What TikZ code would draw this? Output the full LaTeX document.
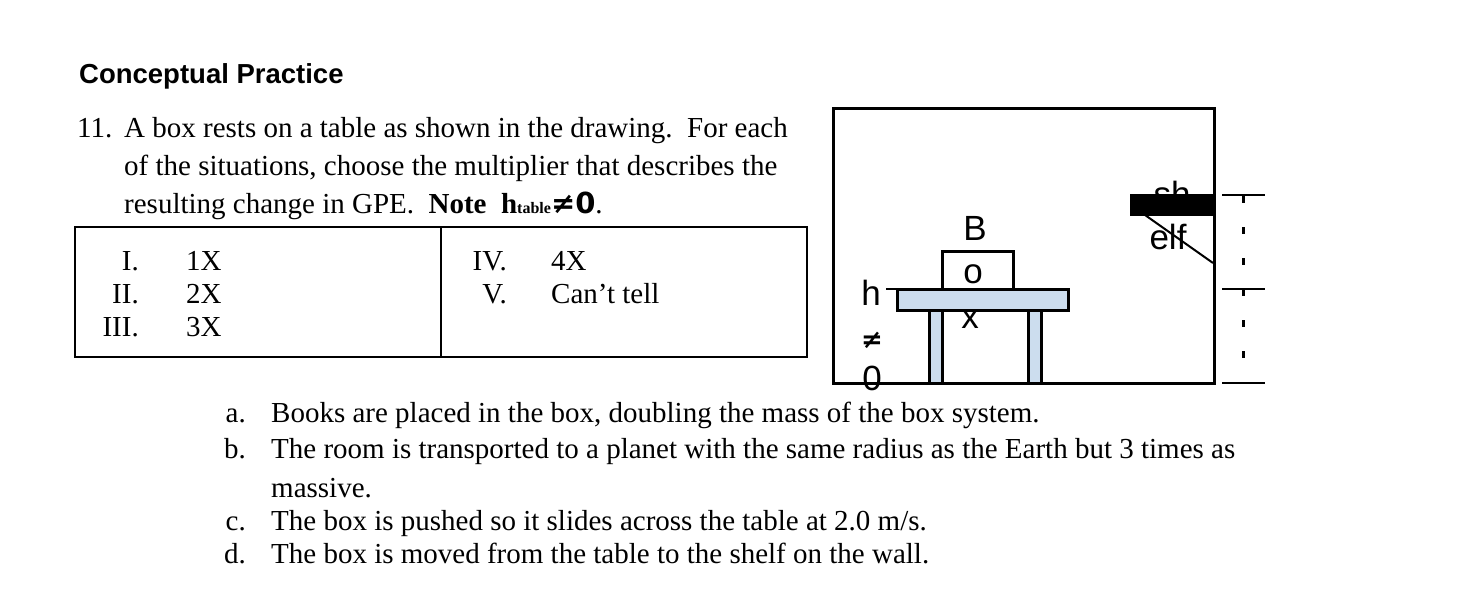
\documentclass[tikz,border=0pt]{standalone}
\usepackage{fontspec}
\setmainfont{Liberation Serif}
\newfontfamily\lsans{Liberation Sans}
\newfontfamily\dsans{DejaVu Sans}
\begin{document}
\begin{tikzpicture}[x=1pt,y=-1pt,
  txt/.style={anchor=base west,inner sep=0pt,font=\fontsize{29}{34}\selectfont},
  rtxt/.style={anchor=base east,inner sep=0pt,font=\fontsize{29}{34}\selectfont},
  lbl/.style={anchor=base,inner sep=0pt,font=\lsans\fontsize{35}{38}\selectfont},
  lblue/.style={fill={rgb,255:red,204;green,221;blue,238},draw=black,line width=3pt}]
\useasboundingbox (0,0) rectangle (1470,602);
\fill[white] (0,0) rectangle (1470,602);
\node[anchor=base west,inner sep=0pt,font=\lsans\bfseries\fontsize{27.5}{32}\selectfont] (head) at (79,84) {Conceptual Practice};
\node[txt] (n11) at (77,137) {11.};
\node[txt] (l1) at (124,137) {A box rests on a table as shown in the drawing.\ \ For each};
\node[txt] (l2) at (124,175) {of the situations, choose the multiplier that describes the};
\node[txt] (l3) at (124,213) {resulting change in GPE.\ \ \textbf{Note\ \ h}{\fontsize{16}{18}\selectfont\textbf{table}}{\dsans\bfseries ≠0}.};
% choice table
\draw[line width=2.5pt] (75,227) rectangle (807,357);
\draw[line width=2.5pt] (441,227) -- (441,357);
\node[rtxt] (r1) at (139,270) {I.};
\node[rtxt] (r2) at (139,303) {II.};
\node[rtxt] (r3) at (139,336) {III.};
\node[txt] (c1) at (186,270) {1X};
\node[txt] (c2) at (186,303) {2X};
\node[txt] (c3) at (186,336) {3X};
\node[rtxt] (r4) at (507,270) {IV.};
\node[rtxt] (r5) at (507,303) {V.};
\node[txt] (c4) at (551,270) {4X};
\node[txt] (c5) at (551,303) {Can’t tell};
% drawing
\draw[line width=3pt] (833,108) rectangle (1214,383);
\node[lbl] (sh) at (1172,206) {sh};
\fill (1130,194) rectangle (1214,216);
\node[lbl] (elf) at (1168,249) {elf};
\draw[line width=2pt] (1145,215) -- (1213,263);
\draw[line width=2.5pt] (1222,195) -- (1265,195) (1222,289) -- (1265,289) (1222,383) -- (1265,383);
\draw[line width=3pt,dash pattern=on 7pt off 24pt] (1243,196) -- (1243,383);
\node[lbl] (B) at (975,240) {B};
\draw[line width=3pt,fill=white] (942,251) rectangle (1013,289);
\node[lbl] (o) at (973,283) {o};
\draw[lblue] (929,310) rectangle (942,383);
\draw[lblue] (1028,310) rectangle (1041,383);
\draw[lblue] (897,289) rectangle (1068,310);
\node[lbl] (x) at (970,328) {x};
\node[lbl] (h) at (871,305) {h};
\draw[line width=1.5pt] (886,289) -- (897,289);
\node[anchor=base,inner sep=0pt,font=\dsans\bfseries\fontsize{26}{30}\selectfont] (ne) at (872,348) {≠};
\node[lbl] (zero) at (872,390) {0};
% questions
\node[rtxt] (a) at (246,422) {a.};
\node[txt] (qa) at (271,422) {Books are placed in the box, doubling the mass of the box system.};
\node[rtxt] (b) at (246,458) {b.};
\node[txt] (qb) at (271,458) {The room is transported to a planet with the same radius as the Earth but 3 times as};
\node[txt] (qb2) at (271,497) {massive.};
\node[rtxt] (c) at (246,530) {c.};
\node[txt] (qc) at (271,530) {The box is pushed so it slides across the table at 2.0 m/s.};
\node[rtxt] (d) at (246,563) {d.};
\node[txt] (qd) at (271,563) {The box is moved from the table to the shelf on the wall.};
\end{tikzpicture}
\end{document}
